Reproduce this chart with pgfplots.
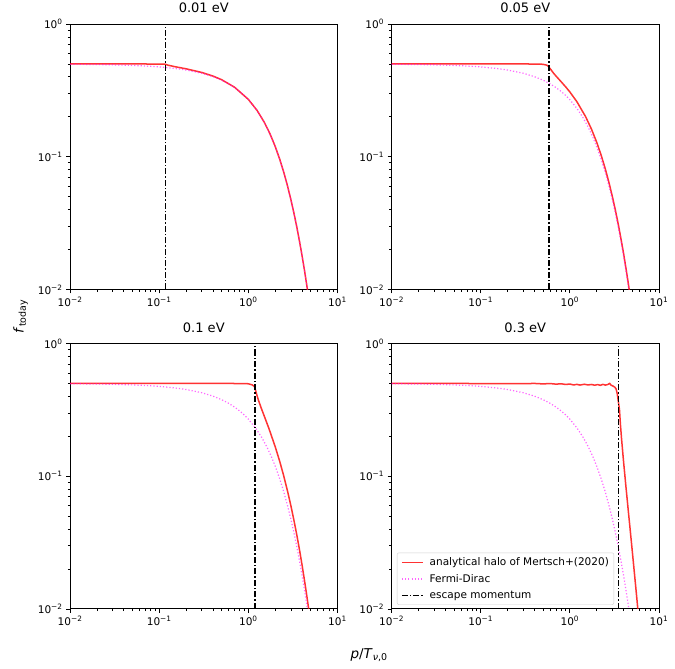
\documentclass[border=0pt]{standalone}
\usepackage{fontspec}
\setmainfont{DejaVu Sans}
\usepackage{pgfplots}
\pgfplotsset{compat=1.18}
\usepgfplotslibrary{groupplots}

\definecolor{halored}{RGB}{255,0,0}
\definecolor{fdmag}{RGB}{255,0,255}

% Fermi-Dirac occupation
\pgfplotstableread{
x f
0.01 0.49750
0.02 0.49500
0.03 0.49250
0.05 0.48750
0.07 0.48251
0.1 0.47502
0.15 0.46257
0.2 0.45017
0.3 0.42556
0.4 0.40131
0.5 0.37754
0.6 0.35434
0.7 0.33181
0.8 0.31003
0.9 0.28905
1.0 0.26894
1.2 0.23148
1.4 0.19782
1.6 0.16798
1.8 0.14185
2.0 0.11920
2.25 0.09535
2.5 0.07586
2.75 0.06009
3.0 0.04743
3.25 0.03733
3.5 0.02931
3.75 0.02298
4.0 0.01799
4.25 0.01406
4.5 0.01099
4.75 0.00858
5.0 0.00669
5.5 0.00407
6.0 0.00247
}\fdtab

\pgfplotstableread{
x f
0.01 0.500
0.03 0.500
0.06 0.500
0.1 0.499
0.116 0.498
0.12 0.4946
0.125 0.4897
0.15 0.4769
0.2 0.4597
0.3 0.4315
0.4 0.4056
0.5 0.3809
0.7 0.3340
1.0 0.2703
1.25 0.2237
1.5 0.1831
1.75 0.1486
2.0 0.1196
2.25 0.0956
2.5 0.0761
2.75 0.0602
3.0 0.0475
3.25 0.0374
3.5 0.0294
3.75 0.0230
4.0 0.0180
4.25 0.0141
4.5 0.0110
4.75 0.0086
5.0 0.0067
6.0 0.0025
}\haloA

\pgfplotstableread{
x f
0.01 0.500
0.1 0.500
0.3 0.500
0.45 0.499
0.5 0.497
0.55 0.490
0.57 0.482
0.62 0.4488
0.65 0.4296
0.7 0.4051
0.8 0.3669
0.9 0.3354
1.0 0.3077
1.2 0.2597
1.5 0.2008
1.75 0.1612
2.0 0.1287
2.25 0.1022
2.5 0.0809
2.75 0.0637
3.0 0.0501
3.25 0.0393
3.5 0.0308
3.75 0.0240
4.0 0.0188
4.25 0.0146
4.5 0.0114
4.75 0.0089
5.0 0.0069
6.0 0.0026
}\haloB

\pgfplotstableread{
x f
0.01 0.500
0.1 0.500
0.5 0.500
0.9 0.499
1.0 0.497
1.1 0.488
1.17 0.475
1.25 0.4055
1.3 0.3721
1.4 0.3236
1.5 0.2864
1.7 0.2290
2.0 0.1669
2.25 0.1290
2.5 0.0999
2.75 0.0773
3.0 0.0599
3.25 0.0463
3.5 0.0359
3.75 0.0278
4.0 0.0215
4.25 0.0166
4.5 0.0129
4.75 0.0100
5.0 0.0077
5.5 0.0046
}\haloC

\pgfplotstableread{
x f
0.01 0.500
0.05 0.500
0.1 0.499
0.2 0.499
0.3 0.498
0.4 0.500
0.5 0.496
0.6 0.499
0.7 0.494
0.8 0.497
0.9 0.491
1.0 0.495
1.1 0.487
1.2 0.492
1.3 0.486
1.45 0.493
1.6 0.487
1.75 0.491
1.9 0.485
2.05 0.490
2.2 0.484
2.35 0.492
2.5 0.486
2.65 0.490
2.8 0.500
2.9 0.485
3.05 0.478
3.2 0.468
3.3 0.455
3.4 0.420
3.6 0.3198
3.7 0.2423
3.8 0.1928
4.0 0.1301
4.25 0.0846
4.5 0.0571
4.75 0.0396
5.0 0.0279
5.25 0.0199
5.5 0.0144
5.75 0.0105
6.0 0.0077
}\haloD

\pgfplotsset{
  panel/.style={
    xmode=log, ymode=log,
    scale only axis,
    width=267pt, height=265pt,
    xmin=0.01, xmax=10, ymin=0.01, ymax=1,
    xtick={0.01,0.1,1,10},
    xticklabels={10\textsuperscript{−2},10\textsuperscript{−1},10\textsuperscript{0},10\textsuperscript{1}},
    ytick={0.01,0.1,1},
    yticklabels={10\textsuperscript{−2},10\textsuperscript{−1},10\textsuperscript{0}},
    minor xtick={0.02,0.03,0.04,0.05,0.06,0.07,0.08,0.09,0.2,0.3,0.4,0.5,0.6,0.7,0.8,0.9,2,3,4,5,6,7,8,9},
    minor ytick={0.02,0.03,0.04,0.05,0.06,0.07,0.08,0.09,0.2,0.3,0.4,0.5,0.6,0.7,0.8,0.9},
    tick align=outside,
    xtick pos=bottom, ytick pos=left,
    major tick length=4pt, minor tick length=2.2pt,
    every tick/.style={black, line width=0.7pt},
    axis line style={line width=0.8pt},
    tick label style={font=\fontsize{10.5}{12}\selectfont},
    title style={font=\fontsize{13}{15}\selectfont, at={(0.5,1)}, anchor=base, yshift=5pt},
  },
  halo/.style={color=halored, opacity=0.8, line width=1.5pt},
  fd/.style={color=fdmag, opacity=0.6, line width=1.2pt, dash pattern=on 1.2pt off 2pt},
  esc/.style={black, line width=1.3pt, dash pattern=on 6pt off 2pt on 1.5pt off 2pt},
}

\begin{document}
\begin{tikzpicture}
\begin{groupplot}[
  group style={group size=2 by 2, horizontal sep=54pt, vertical sep=54pt},
  panel,
]
\nextgroupplot[title={0.01 eV},
  ylabel={\textit{f}\textsubscript{today}},
  ylabel style={font=\fontsize{13.5}{15}\selectfont, at={(axis description cs:-0.185,-0.102)}, anchor=center}]
\addplot[halo] table {\haloA};
\addplot[fd] table {\fdtab};
\addplot[esc] coordinates {(0.118,0.01) (0.118,1)};

\nextgroupplot[title={0.05 eV}]
\addplot[halo] table {\haloB};
\addplot[fd] table {\fdtab};
\addplot[esc] coordinates {(0.585,0.01) (0.585,1)};

\nextgroupplot[title={0.1 eV},
  xlabel={\textit{p}/\textit{T}\textsubscript{\textit{ν},0}},
  xlabel style={font=\fontsize{13.5}{15}\selectfont, at={(axis description cs:1.118,-0.174)}, anchor=center}]
\addplot[halo] table {\haloC};
\addplot[fd] table {\fdtab};
\addplot[esc] coordinates {(1.19,0.01) (1.19,1)};

\nextgroupplot[title={0.3 eV},
  legend style={at={(0.02,0.015)}, anchor=south west,
    draw=black!18, rounded corners=2pt, fill=white, fill opacity=0.8, text opacity=1,
    font=\fontsize{10.5}{12}\selectfont, cells={anchor=west}, row sep=3pt,
    inner xsep=3pt, inner ysep=3pt},
  legend image code/.code={\draw[#1] (1pt,0pt) -- (22pt,0pt); \path (0pt,0pt) (26pt,0pt);}]
\addplot[halo] table {\haloD};
\addplot[fd] table {\fdtab};
\addplot[esc] coordinates {(3.52,0.01) (3.52,1)};
\legend{analytical halo of Mertsch+(2020), Fermi-Dirac, escape momentum}
\end{groupplot}
\path (group c1r1.north west) ++(-70pt,22pt);
\path (group c2r2.south east) ++(16pt,-60pt);
\end{tikzpicture}
\end{document}
